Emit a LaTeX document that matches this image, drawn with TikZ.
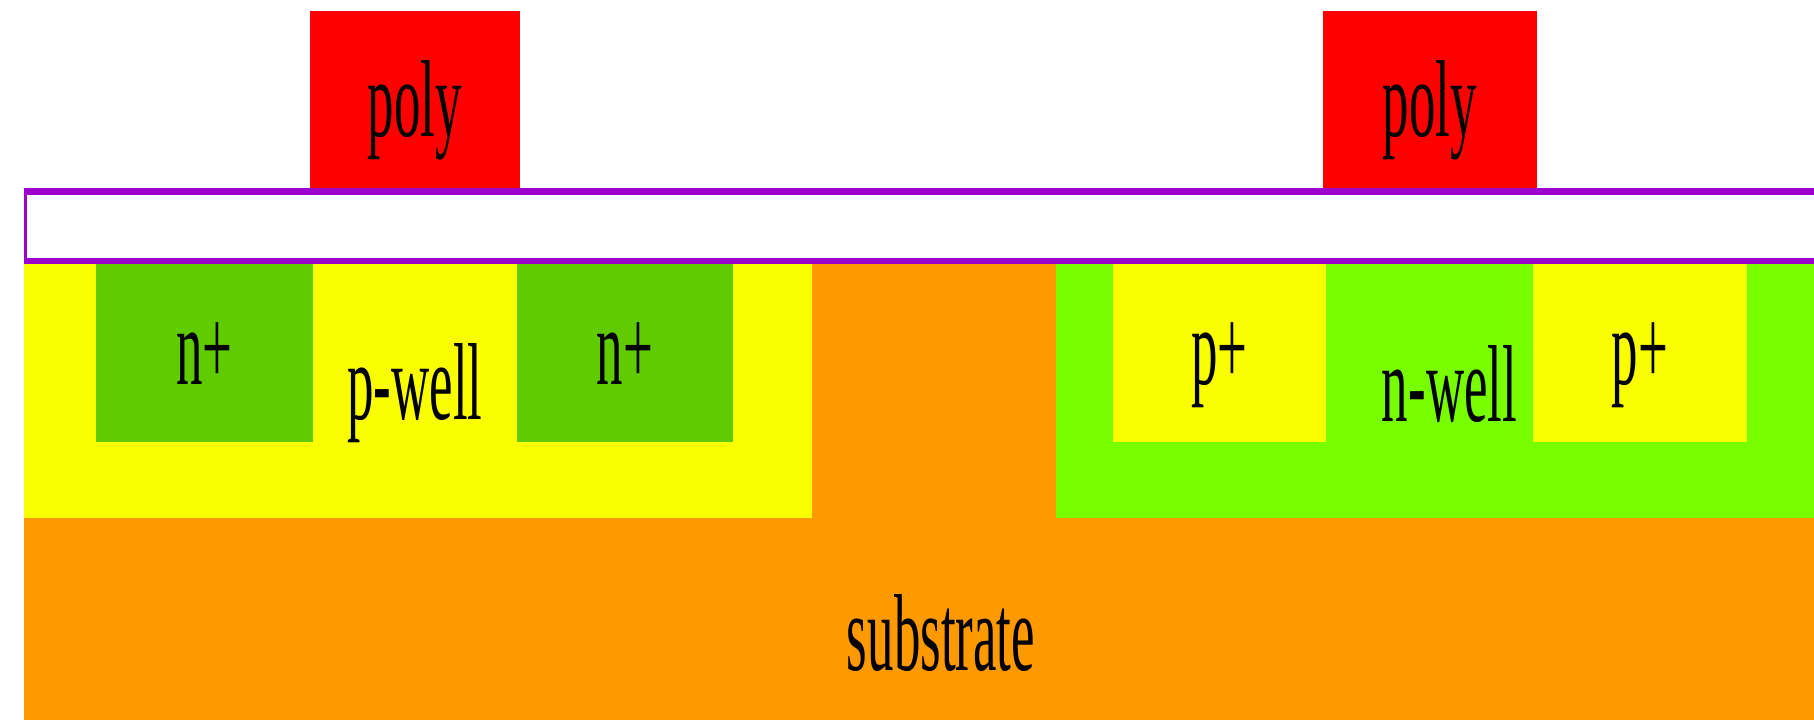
\documentclass[tikz,border=0pt]{standalone}
\usepackage{xcolor}
\usepackage{graphicx}
\usepackage{fontspec}
\setmainfont{Liberation Serif}
\usepackage{tikz}
\usetikzlibrary{positioning,calc}

\definecolor{polyred}{HTML}{FF0000}
\definecolor{oxidepurple}{HTML}{9B00CC}
\definecolor{substrateorange}{HTML}{FF9900}
\definecolor{pyellow}{HTML}{FAFF00}
\definecolor{nwellgreen}{HTML}{77FF00}
\definecolor{nplusgreen}{HTML}{60CC00}
\newcommand{\tall}[1]{\scalebox{1}[2.07]{#1}}

\begin{document}
\begin{tikzpicture}[
    layer/.style={rectangle, inner sep=0pt, outer sep=0pt, text=black, font=\fontsize{30.1}{36}\selectfont},
    gate/.style={layer, fill=polyred, minimum height=3.54cm, text height=1.5cm, text depth=0pt},
    implant/.style={layer, minimum height=3.56cm, text height=1.28cm, text depth=0pt},
    well/.style={layer, minimum height=5.08cm},
    tag/.style={layer, anchor=base}
]
\useasboundingbox (0,0) rectangle (36.28,14.4);

\node[layer, fill=substrateorange, anchor=north west, minimum width=35.8cm, minimum height=9.12cm] (substrate) at (0.48,9.12) {};
\node[layer, fill=oxidepurple, above right=0pt and 0pt of substrate.north west, minimum width=35.8cm, minimum height=1.52cm] (oxide) {};
\node[layer, fill=white, above right=0.12cm and 0.06cm of oxide.south west, minimum width=35.74cm, minimum height=1.26cm] (oxideinner) {};

\node[gate, above right=0pt and 5.72cm of oxide.north west, minimum width=4.2cm] (polya) {\tall{poly}};
\node[gate, above right=0pt and 25.98cm of oxide.north west, minimum width=4.28cm] (polyb) {\tall{poly}};

\node[well, fill=pyellow, below right=0pt and 0pt of substrate.north west, minimum width=15.76cm] (pwell) {};
\node[well, fill=nwellgreen, below left=0pt and 0pt of substrate.north east, minimum width=15.16cm] (nwell) {};

\node[implant, fill=nplusgreen, below right=0pt and 1.44cm of pwell.north west, minimum width=4.34cm] (nplusa) {\tall{n+}};
\node[implant, fill=nplusgreen, below right=0pt and 9.86cm of pwell.north west, minimum width=4.32cm] (nplusb) {\tall{n+}};
\node[implant, fill=pyellow, below right=0pt and 1.14cm of nwell.north west, minimum width=4.26cm] (pplusa) {\tall{p+}};
\node[implant, fill=pyellow, below right=0pt and 9.54cm of nwell.north west, minimum width=4.28cm] (pplusb) {\tall{p+}};

\node[tag] (pwelltag) at ($(nplusa.south east)!0.5!(nplusb.south west)+(0,0.44)$) {\tall{p-well}};
\node[tag] (nwelltag) at ($(pplusa.south east)!0.5!(pplusb.south west)+(0.4,0.40)$) {\tall{n-well}};
\node[tag] (substratetag) at ($(substrate.south)+(0.44,1.0)$) {\tall{substrate}};

\end{tikzpicture}
\end{document}
